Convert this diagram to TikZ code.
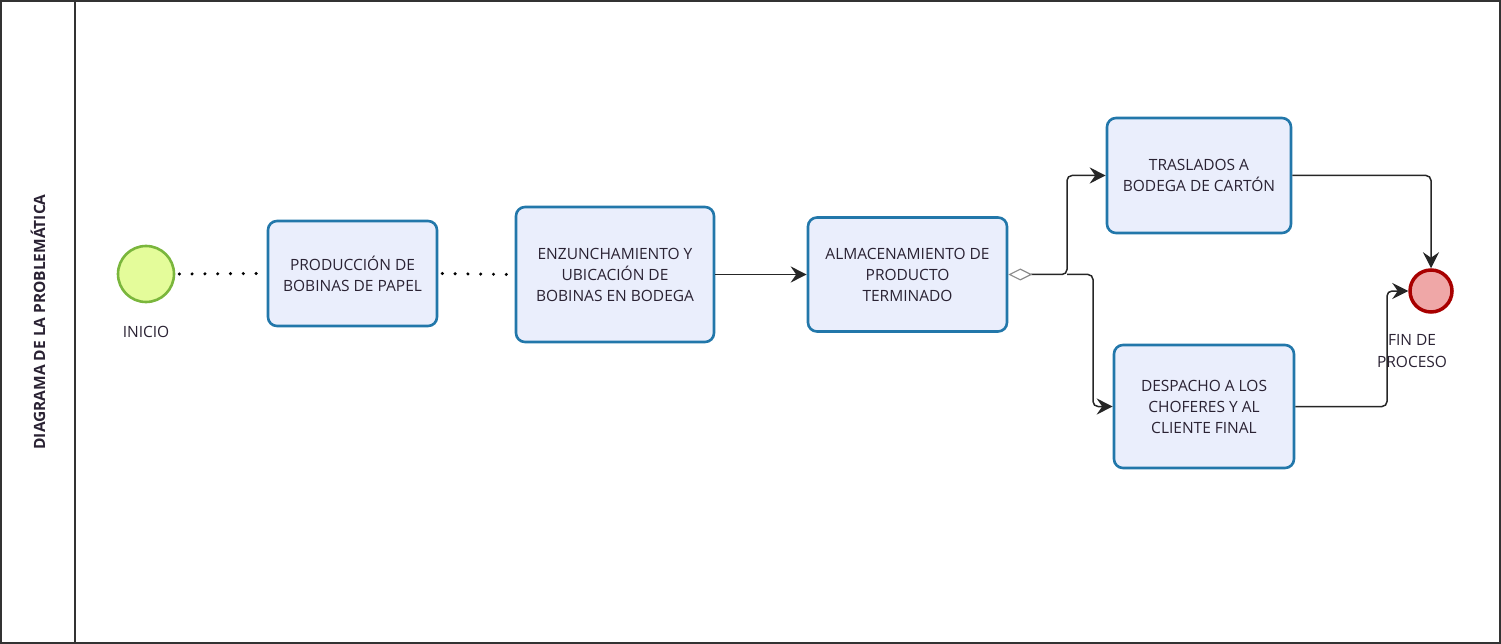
\documentclass[tikz,border=0pt]{standalone}
\usepackage{fontspec}
\setmainfont{Open Sans}
\usetikzlibrary{arrows.meta}
\definecolor{boxfill}{HTML}{EAEEFC}
\definecolor{boxline}{HTML}{2277AA}
\definecolor{startfill}{HTML}{E4FC9A}
\definecolor{startline}{HTML}{7AB63C}
\definecolor{endfill}{HTML}{EFA7A7}
\definecolor{endline}{HTML}{A80000}
\definecolor{txt}{HTML}{2A2233}
\definecolor{lane}{HTML}{333333}
\tikzset{
  task/.style={draw=boxline, fill=boxfill, line width=2.6pt, rounded corners=9pt,
    align=center, text=txt, font=\fontsize{15.5}{21}\selectfont, inner sep=0pt},
  tip/.style={Stealth[length=16pt,width=16pt,inset=5.5pt]},
  flow/.style={draw=black!85, line width=1.5pt, rounded corners=5pt, -{Stealth[length=16pt,width=16pt,inset=5.5pt]}},
  dots/.style={draw=black, line width=3.4pt, line cap=round, dash pattern=on 0pt off 12.8pt},
  lbl/.style={text=txt, font=\fontsize{15.5}{22}\selectfont, align=center, inner sep=0pt}
}
\begin{document}
\begin{tikzpicture}[x=1pt,y=-1pt]
\useasboundingbox (0,0) rectangle (1501,644);
% lane
\draw[lane, line width=1.5pt] (1,1) rectangle (1500,643);
\draw[lane, line width=1.5pt] (75,1) -- (75,643);
\node[rotate=90, font=\bfseries\fontsize{15.5}{18}\selectfont, text=txt] (title) at (38,322) {DIAGRAMA DE LA PROBLEMÁTICA};
% events
\node[circle, draw=startline, fill=startfill, line width=2.6pt, minimum size=56pt, inner sep=0pt] (s) at (146,274) {};
\node[lbl] (sl) at (146,332) {INICIO};
\node[circle, draw=endline, fill=endfill, line width=3.5pt, minimum size=42pt, inner sep=0pt] (e) at (1431,291) {};
\node[lbl] (el) at (1412,351) {FIN DE\\PROCESO};
% tasks
\node[task, minimum width=169pt, minimum height=105pt] (b1) at (352.5,273.5) {PRODUCCIÓN DE\\BOBINAS DE PAPEL};
\node[task, minimum width=198pt, minimum height=135pt] (b2) at (615,274.5) {ENZUNCHAMIENTO Y\\UBICACIÓN DE\\BOBINAS EN BODEGA};
\node[task, minimum width=199pt, minimum height=114pt] (b3) at (907.5,274.5) {ALMACENAMIENTO DE\\PRODUCTO\\TERMINADO};
\node[task, minimum width=184pt, minimum height=115pt] (b4) at (1199,175.5) {TRASLADOS A\\BODEGA DE CARTÓN};
\node[task, minimum width=180pt, minimum height=123pt] (b5) at (1204,406.5) {DESPACHO A LOS\\CHOFERES Y AL\\CLIENTE FINAL};
% junction coordinates
\coordinate (j1) at (1067,274.5);
\coordinate (j2) at (1093,274.5);
\coordinate (j3) at (1387,406.5);
% connectors
\draw[dots] ([xshift=4pt]s.east) -- ([xshift=-8pt]b1.west);
\draw[dots] ([xshift=4pt]b1.east) -- ([xshift=-8pt]b2.west);
\draw[flow] (b2.east) -- (b3.west);
\draw[flow, {Diamond[open,length=24pt,width=12pt,line width=1.2pt,color=black!45]}-{Stealth[length=16pt,width=16pt,inset=5.5pt]}] (b3.east) -- (j1) |- (b4.west);
\draw[flow] (j1) -- (j2) |- (b5.west);
\draw[flow] (b4.east) -| (e.north);
\draw[flow] (b5.east) -- (j3) |- (e.west);
\end{tikzpicture}
\end{document}
